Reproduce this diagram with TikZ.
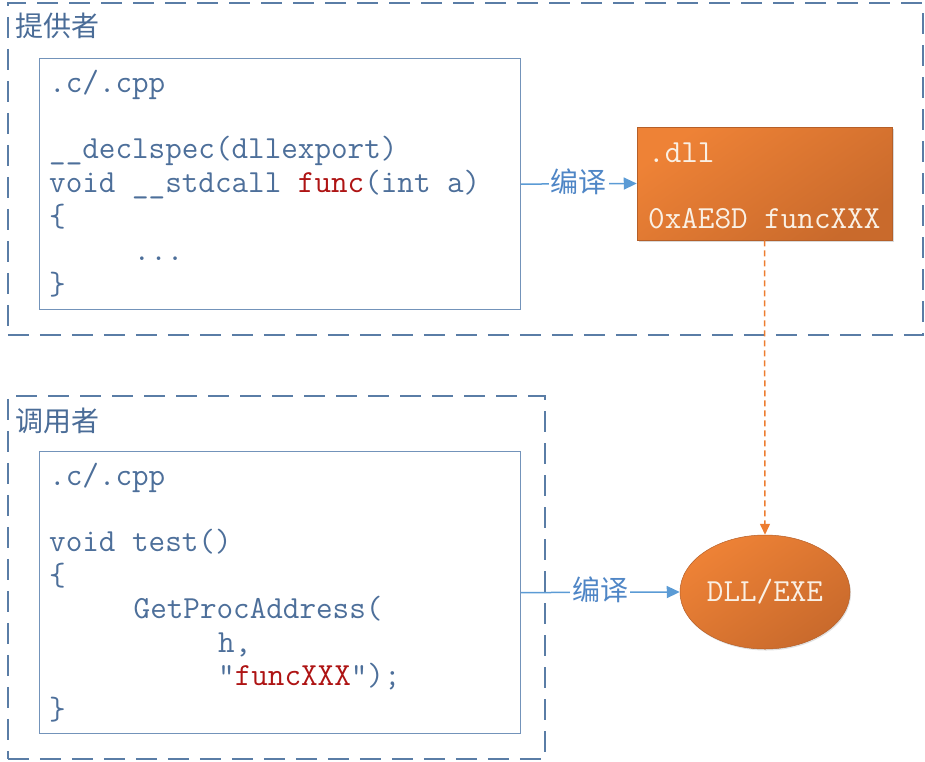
\documentclass[tikz,border=0pt]{standalone}
\usepackage{fontspec}
\newfontfamily\cjk{Noto Sans CJK SC}
\usetikzlibrary{arrows.meta,shapes.geometric,shadows}
\definecolor{codeblue}{HTML}{4D6F9A}
\definecolor{labelblue}{HTML}{4A6C97}
\definecolor{arrowblue}{HTML}{5B9BD5}
\definecolor{arrowtext}{HTML}{4F86C6}
\definecolor{dashblue}{HTML}{5A7DA6}
\definecolor{boxblue}{HTML}{7393BA}
\definecolor{funcred}{HTML}{AE1414}
\definecolor{orangeA}{HTML}{EE8236}
\definecolor{orangeB}{HTML}{C96A2C}
\definecolor{orangeline}{HTML}{ED7D31}
\definecolor{cream}{HTML}{FAF0E4}
\newcommand\codefont{\ttfamily\fontsize{32.2}{34}\selectfont}
\begin{document}
\begin{tikzpicture}[x=1pt,y=-1pt,
  groupbox/.style={draw=dashblue, line width=1.6pt, dash pattern=on 21pt off 11pt, minimum width=#1, inner sep=0pt, anchor=north west},
  codebox/.style={draw=boxblue, line width=1.2pt, minimum width=481pt, inner sep=0pt, anchor=north west},
  code/.style={anchor=base west, inner sep=0pt, font=\codefont, text=codeblue},
  light/.style={anchor=base west, inner sep=0pt, font=\codefont, text=cream},
  grouplabel/.style={inner sep=0pt, font=\cjk\fontsize{28}{30}\selectfont, text=labelblue},
  steplabel/.style={fill=white, inner xsep=2pt, inner ysep=0pt, font=\cjk\fontsize{28}{30}\selectfont, text=arrowtext, yshift=2.5pt},
  bluearrow/.style={draw=arrowblue, line width=1.5pt, -{Triangle[length=13pt,width=12pt]}},
  orangedash/.style={draw=orangeline, line width=1.5pt, dash pattern=on 6pt off 4pt, -{Triangle[length=11pt,width=10pt]}},
  orangefill/.style={top color=orangeA, bottom color=orangeB, shading angle=35, draw=orangeB!90!black, line width=0.5pt}
]
\useasboundingbox (0,0) rectangle (925,761);

% group boxes
\node[groupbox=915pt, minimum height=332pt] (prov) at (7,2) {};
\node[groupbox=537pt, minimum height=363pt] (call) at (7,395) {};
\node[grouplabel] (provlabel) at (57,26) {提供者};
\node[grouplabel] (calllabel) at (57,421) {调用者};

% code boxes
\node[codebox, minimum height=251pt] (code1) at (39,58) {};
\node[codebox, minimum height=282pt] (code2) at (39,451) {};

% code 1 text
\node[code] (c1a) at (49,92) {.c/.cpp};
\node[code] (c1b) at (49,158) {\_\_declspec(dllexport)};
\node[code] (c1c) at (49,192) {void \_\_stdcall {\color{funcred}func}(int a)};
\node[code] (c1d) at (49,226) {\{};
\node[code] (c1e) at (133.5,260) {...};
\node[code] (c1f) at (49,294) {\}};

% code 2 text
\node[code] (c2a) at (49,485) {.c/.cpp};
\node[code] (c2b) at (49,551) {void test()};
\node[code] (c2c) at (49,585) {\{};
\node[code] (c2d) at (133.5,618) {GetProcAddress(};
\node[code] (c2e) at (218,652) {h,};
\node[code] (c2f) at (218,685) {”{\color{funcred}funcXXX}”);};
\node[code] (c2g) at (49,719) {\}};

% dll box
\node[orangefill, minimum width=255pt, minimum height=113pt, inner sep=0pt,
      drop shadow={shadow xshift=1.5pt, shadow yshift=-2pt, opacity=0.25, fill=black!60}] (dll) at (764.5,183.5) {};
\node[light] (dlla) at (648,162) {.dll};
\node[light] (dllb) at (648,228) {0xAE8D funcXXX};

% result ellipse
\node[ellipse, orangefill, minimum width=170pt, minimum height=114pt, inner sep=0pt,
      font=\codefont, text=cream, text height=19pt, text depth=0pt,
      drop shadow={shadow xshift=1pt, shadow yshift=-1.5pt, opacity=0.2, fill=black!60}] (exe) at (765,592) {DLL/EXE};

% connectors
\draw[bluearrow] (code1.east) -- node[steplabel] (comp1) {编译} (dll.west);
\draw[bluearrow] (code2.east) -- node[steplabel] (comp2) {编译} (exe.west);
\draw[orangedash] (dll.south) -- (exe.north);
\end{tikzpicture}
\end{document}
